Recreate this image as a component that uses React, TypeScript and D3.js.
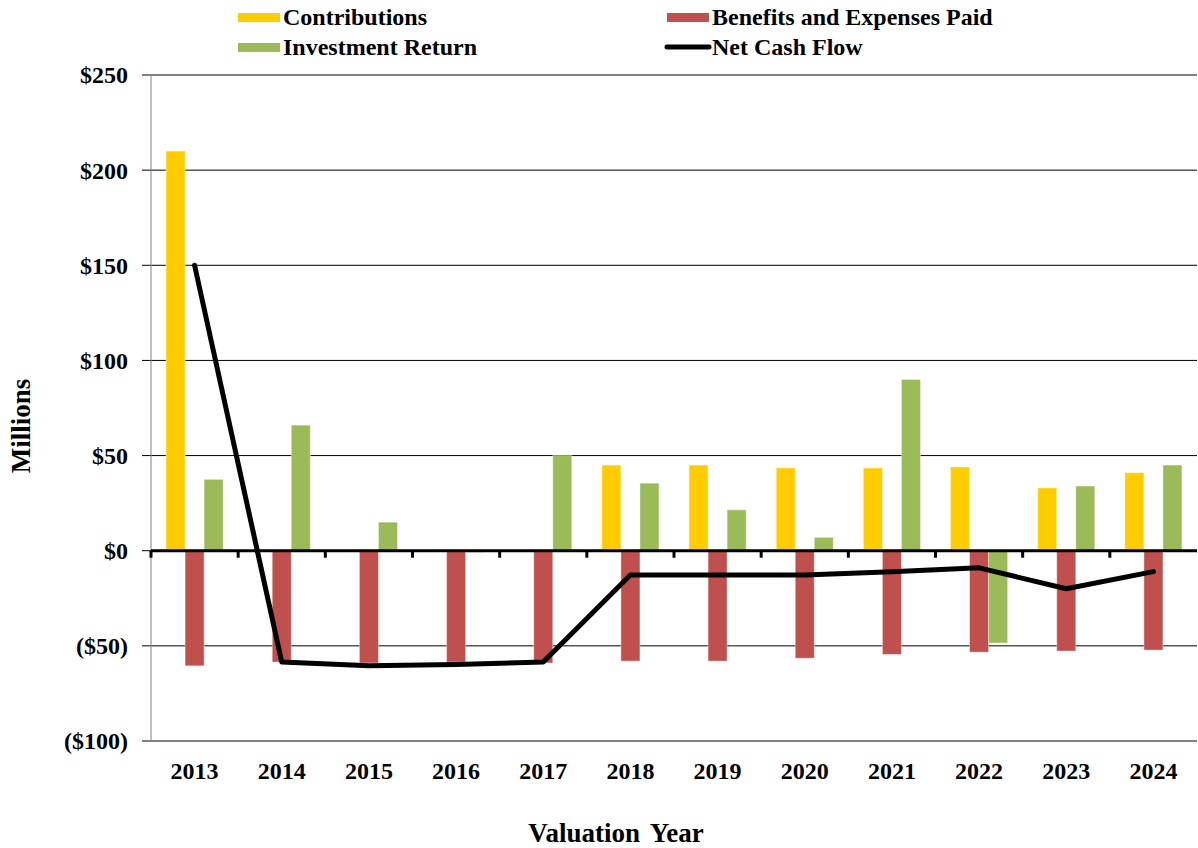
import React from 'react';
import * as d3 from 'd3';

const years = ['2013', '2014', '2015', '2016', '2017', '2018', '2019', '2020', '2021', '2022', '2023', '2024'];
const contributions = [210, 0, 0, 0, 0, 45, 45, 43.5, 43.5, 44, 33, 41];
const benefits = [-60.5, -58.5, -59, -58.5, -59, -58, -58, -56.5, -54.5, -53.3, -52.7, -52.2];
const investment = [37.5, 66, 15, -0.8, 50, 35.5, 21.5, 7, 90, -48.5, 34, 45];
const netCashFlow = [150, -58.5, -60.5, -59.8, -58.5, -12.8, -12.8, -12.8, -11, -9, -20, -11];
const yTicks = [-100, -50, 0, 50, 100, 150, 200, 250];

const seriesNames = ['Contributions', 'Benefits and Expenses Paid', 'Investment Return'];
const seriesColors = ['#FFCC00', '#C0504D', '#9BBB59'];
const seriesValues = [contributions, benefits, investment];

const W = 1198;
const H = 848;
const margin = { top: 75, right: 1, bottom: 107, left: 151 };
const font = '"Liberation Serif", "Times New Roman", serif';

const fmt = (v: number) => (v < 0 ? `($${Math.abs(v)})` : `$${v}`);

const App: React.FC = () => {
  const x = d3.scaleBand<string>().domain(years).range([margin.left, W - margin.right]);
  const y = d3.scaleLinear().domain([-100, 250]).range([H - margin.bottom, margin.top]);
  const bw = x.bandwidth();
  const groupW = bw * 0.655;
  const x1 = d3.scaleBand<string>().domain(seriesNames).range([-groupW / 2, groupW / 2]);

  const line = d3.line<number>()
    .x((_, i) => (x(years[i]) as number) + bw / 2)
    .y(d => y(d));

  return (
    <svg width={W} height={H} style={{ position: 'absolute', left: 0, top: 0, background: '#fff' }} fontFamily={font}>
      {/* gridlines */}
      {yTicks.filter(t => t !== 0).map(t => (
        <line key={t} x1={margin.left - 9} x2={W - margin.right} y1={y(t)} y2={y(t)} stroke="#000" strokeWidth={1} />
      ))}
      <line x1={margin.left} x2={margin.left} y1={y(250)} y2={y(-100)} stroke="#808080" strokeWidth={1} />
      <line x1={margin.left - 9} x2={margin.left} y1={y(0)} y2={y(0)} stroke="#000" strokeWidth={1} />
      {yTicks.map(t => (
        <text key={t} x={128} y={y(t)} dy="0.35em" textAnchor="end" fontSize={24} fontWeight="bold">{fmt(t)}</text>
      ))}

      {/* bars */}
      {seriesValues.map((vals, si) => (
        <g key={seriesNames[si]}>
          {vals.map((v, i) => (
            v === 0 ? null : (
              <rect
                key={years[i]}
                x={(x(years[i]) as number) + bw / 2 + (x1(seriesNames[si]) as number)}
                y={y(Math.max(0, v))}
                width={x1.bandwidth()}
                height={Math.abs(y(v) - y(0))}
                fill={seriesColors[si]}
                stroke="#fff"
                strokeOpacity={0.4}
                strokeWidth={1}
              />
            )
          ))}
        </g>
      ))}

      {/* zero axis */}
      <line x1={margin.left} x2={W - margin.right} y1={y(0)} y2={y(0)} stroke="#000" strokeWidth={3} />
      {years.map(yr => (
        <line key={yr} x1={x(yr) as number} x2={x(yr) as number} y1={y(0)} y2={y(0) + 7} stroke="#000" strokeWidth={3} />
      ))}

      <path d={line(netCashFlow) || ''} fill="none" stroke="#000" strokeWidth={5} strokeLinejoin="round" strokeLinecap="round" />

      {years.map(yr => (
        <text key={yr} x={(x(yr) as number) + bw / 2} y={771} dy="0.35em" textAnchor="middle" fontSize={24} fontWeight="bold">{yr}</text>
      ))}

      <text x={616} y={833} dy="0.35em" textAnchor="middle" fontSize={27} fontWeight="bold" wordSpacing={4}>Valuation Year</text>
      <text transform="translate(21,426) rotate(-90)" dy="0.35em" textAnchor="middle" fontSize={27} fontWeight="bold">Millions</text>

      {/* legend */}
      <g fontSize={24} fontWeight="bold">
        <rect x={238} y={13} width={42} height={9} fill={seriesColors[0]} />
        <text x={283} y={17} dy="0.35em">{seriesNames[0]}</text>
        <rect x={667} y={13} width={42} height={9} fill={seriesColors[1]} />
        <text x={712} y={17} dy="0.35em">{seriesNames[1]}</text>
        <rect x={238} y={43} width={42} height={9} fill={seriesColors[2]} />
        <text x={283} y={47} dy="0.35em">{seriesNames[2]}</text>
        <line x1={667} x2={709} y1={47} y2={47} stroke="#000" strokeWidth={5} strokeLinecap="round" />
        <text x={712} y={47} dy="0.35em">Net Cash Flow</text>
      </g>
    </svg>
  );
};

export default App;
